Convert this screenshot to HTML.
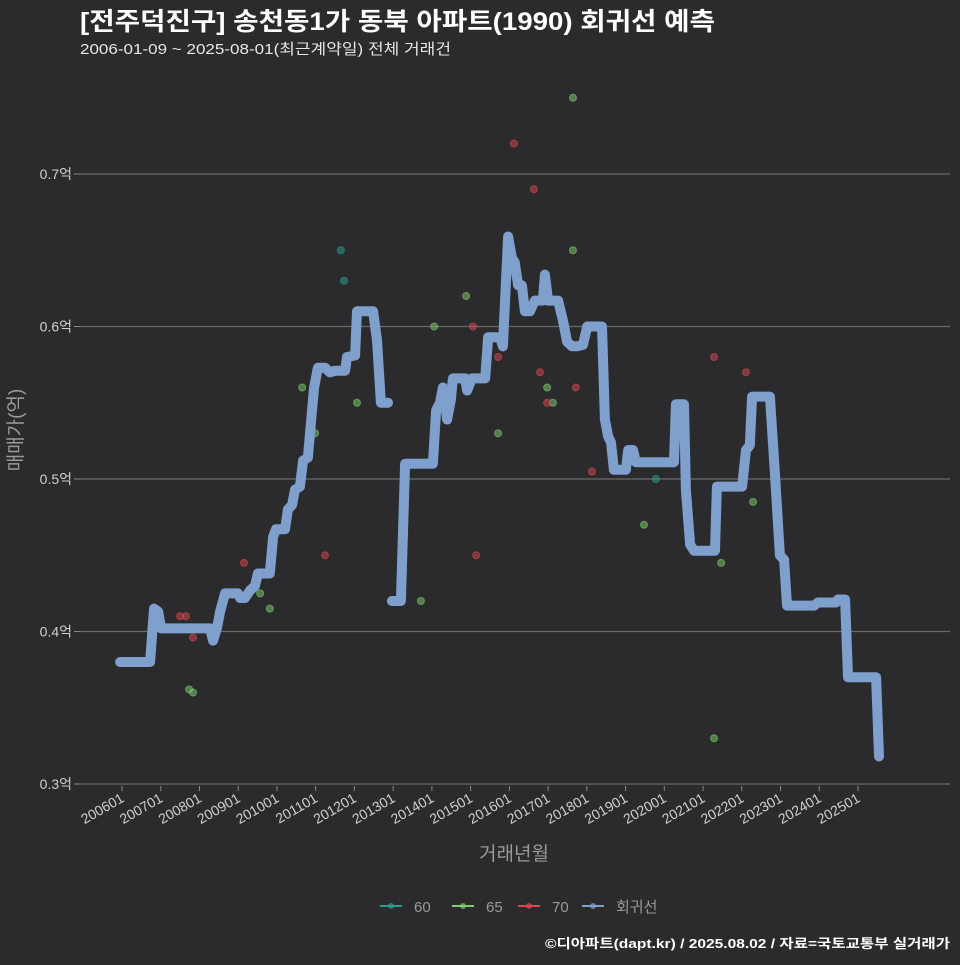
<!DOCTYPE html>
<html><head><meta charset="utf-8"><style>
body{margin:0;background:#2b2a2c;}
svg text{font-family:"Liberation Sans","Noto Sans CJK KR",sans-serif;}
</style></head><body>
<svg width="960" height="960" viewBox="0 0 960 960" xmlns="http://www.w3.org/2000/svg">
<rect width="960" height="960" fill="#2b2a2c"/>
<text x="80" y="30" fill="#ffffff" font-size="25" font-weight="bold" textLength="635" lengthAdjust="spacingAndGlyphs">[전주덕진구] 송천동1가 동북 아파트(1990) 회귀선 예측</text>
<text x="80" y="54" fill="#e6e6e6" font-size="15" textLength="371" lengthAdjust="spacingAndGlyphs">2006-01-09 ~ 2025-08-01(최근계약일) 전체 거래건</text>
<g id="grid"></g><g id="pts"></g><g id="line"></g><g id="axes"></g>
<text x="514" y="860" fill="#9a9a9a" font-size="19" text-anchor="middle">거래년월</text>
<text transform="translate(22,430) rotate(-90)" fill="#9a9a9a" font-size="19" text-anchor="middle">매매가(억)</text>
<g id="legend"></g>
<text x="950" y="948" fill="#ffffff" font-size="13" font-weight="bold" text-anchor="end" textLength="405" lengthAdjust="spacingAndGlyphs">©디아파트(dapt.kr) / 2025.08.02 / 자료=국토교통부 실거래가</text>
</svg>
<script>
const lineMonths=[-0.6,8.7,9.9,11.2,12.1,13.3,27.3,28.2,29.4,30.4,31.9,35.9,36.6,38.1,39.7,41.2,42.1,45.8,46.8,47.7,50.5,51.4,52.7,53.6,55.1,56.1,57.6,58.6,59.5,60.7,62.9,64.4,66.0,69.1,69.7,72.2,72.8,77.8,79.0,80.2,82.4,null,
83.6,86.4,87.7,96.3,97.3,98.5,99.4,100.7,101.9,102.5,106.3,106.9,108.4,112.5,113.4,117.1,118.0,119.6,120.8,121.7,122.7,123.9,124.8,126.4,127.9,130.4,131.0,132.0,135.1,136.6,137.9,139.4,141.0,142.8,144.1,148.7,149.6,150.6,151.5,152.4,156.1,156.8,158.3,159.2,171.0,171.6,174.1,174.7,176.0,177.2,183.7,184.3,192.1,193.3,194.5,195.2,200.7,202.3,203.8,205.1,206.0,214.4,215.6,221.2,221.8,224.0,224.9,233.6,234.5];
const lineValues=[.380,.380,.415,.413,.402,.402,.402,.394,.402,.413,.425,.425,.422,.422,.427,.430,.438,.438,.462,.467,.467,.480,.483,.493,.495,.512,.514,.539,.560,.573,.573,.570,.571,.571,.580,.581,.610,.610,.591,.550,.550,null,
.420,.420,.510,.510,.545,.550,.560,.539,.552,.566,.566,.558,.566,.566,.593,.593,.587,.659,.645,.642,.627,.627,.610,.610,.617,.617,.634,.617,.617,.604,.590,.587,.587,.588,.600,.600,.539,.528,.524,.506,.506,.519,.519,.511,.511,.549,.549,.493,.457,.453,.453,.495,.495,.519,.522,.554,.554,.503,.450,.447,.417,.417,.419,.419,.421,.421,.370,.370,.318];
const ptMonths=[67.8,68.8,165.4,139.7,139.7,106.6,96.7,55.8,59.8,72.8,131.7,133.5,116.5,42.8,45.8,20.8,22.0,92.6,161.7,185.6,195.5,183.4,121.4,127.6,108.7,116.5,129.5,131.7,140.6,37.8,62.9,109.7,18.0,19.8,22.0,145.6,183.4,193.3];
const ptValues=[.650,.630,.500,.750,.650,.620,.600,.560,.530,.550,.560,.550,.530,.425,.415,.362,.360,.420,.470,.445,.485,.330,.720,.690,.600,.580,.570,.550,.560,.445,.450,.450,.410,.410,.396,.505,.580,.570];
const ptAreas=[60,60,60,65,65,65,65,65,65,65,65,65,65,65,65,65,65,65,65,65,65,65,70,70,70,70,70,70,70,70,70,70,70,70,70,70,70,70];
const yTicks=[0.3,0.4,0.5,0.6,0.7];
const yTickLabels=["0.3억","0.4억","0.5억","0.6억","0.7억"];
const xTickLabels=["200601","200701","200801","200901","201001","201101","201201","201301","201401","201501","201601","201701","201801","201901","202001","202101","202201","202301","202401","202501"];
const legendLabels=["60","65","70","회귀선"];
const areaColors={60:"#2a9d8f",65:"#7ccf6a",70:"#d9474f"};
const NS="http://www.w3.org/2000/svg";
const X=m=>122+m*3.228, Y=v=>784-(v-0.3)*1525;
function mk(t,a,p){const e=document.createElementNS(NS,t);for(const k in a)e.setAttribute(k,a[k]);p.appendChild(e);return e;}
const grid=document.getElementById('grid'),axes=document.getElementById('axes');
yTicks.forEach((v,i)=>{
 const l=mk('line',{x1:80,x2:950,y1:Y(v),y2:Y(v),stroke:'#6a6a6a','stroke-width':1.2},grid);
 
 
 const t=mk('text',{x:72,y:Y(v)+5,fill:'#d0d0d0','font-size':14,'text-anchor':'end'},axes);
 t.textContent=yTickLabels[i];
 
 
 const k=mk('line',{x1:74,x2:80,y1:Y(v),y2:Y(v),stroke:'#888'},axes);
 
 
});
xTickLabels.forEach((s,i)=>{
 const x=X(i*12);
 const k=mk('line',{x1:x,x2:x,y1:786,y2:791,stroke:'#888'},axes);
 
 
 const t=mk('text',{transform:`translate(${x+3},${801}) rotate(-30)`,fill:'#d0d0d0','font-size':14,'text-anchor':'end'},axes);
 t.textContent=s;
 
 
});
const pts=document.getElementById('pts');
ptMonths.forEach((m,i)=>{
 const c=mk('circle',{cx:X(m),cy:Y(ptValues[i]),r:3.5,fill:areaColors[ptAreas[i]],'fill-opacity':0.5,stroke:areaColors[ptAreas[i]],'stroke-opacity':0.6},pts);
 
 
});
let d='',start=true;
lineMonths.forEach((m,i)=>{
 if(m===null||lineValues[i]===null){start=true;return;}
 d+=(start?'M':'L')+X(m).toFixed(1)+','+Y(lineValues[i]).toFixed(1);start=false;
});
const p=mk('path',{d:d,fill:'none',stroke:'#7f9fcc','stroke-width':10,'stroke-linejoin':'round','stroke-linecap':'round'},document.getElementById('line'));


const lg=document.getElementById('legend');
const lx=[380,452,518,582],lc=["#2a9d8f","#7ccf6a","#d9474f","#7f9fcc"];
legendLabels.forEach((s,i)=>{
 const g=mk('g',{},lg);
 
 
 mk('line',{x1:lx[i],x2:lx[i]+22,y1:906,y2:906,stroke:lc[i],'stroke-width':2},g);
 mk('circle',{cx:lx[i]+11,cy:906,r:3,fill:lc[i],'fill-opacity':0.7},g);
 const t=mk('text',{x:lx[i]+34,y:912,fill:'#9a9a9a','font-size':15},g);
 t.textContent=s;
});
</script>
</body></html>
